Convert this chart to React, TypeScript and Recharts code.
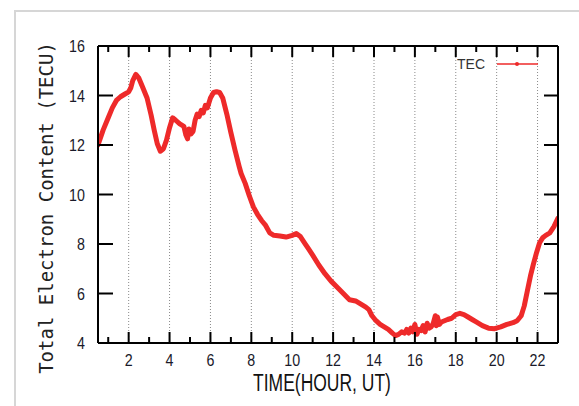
import { LineChart, Line, XAxis, YAxis, ReferenceLine, Legend } from "recharts";

// TEC time series (hour UT, TECU)
const hours = [
  0.5, 0.75, 1.0, 1.2, 1.4, 1.6, 1.8, 2.0, 2.1, 2.2, 2.35, 2.5, 2.7, 2.9, 3.1, 3.25, 3.4, 3.55, 3.7, 3.85,
  4.0, 4.15, 4.3, 4.5, 4.7, 4.8, 4.88, 4.95, 5.05, 5.15, 5.25, 5.35, 5.45, 5.55, 5.65, 5.75, 5.85, 6.0,
  6.15, 6.3, 6.45, 6.6, 6.8, 7.0, 7.2, 7.4, 7.5, 7.7, 7.9, 8.1, 8.3, 8.5, 8.7, 8.9, 9.1, 9.4, 9.7, 10.0,
  10.2, 10.4, 10.6, 10.8, 11.0, 11.3, 11.6, 11.9, 12.2, 12.5, 12.8, 13.1, 13.4, 13.6, 13.75, 13.9, 14.1,
  14.3, 14.5, 14.7, 14.9, 15.05, 15.2, 15.35, 15.5, 15.6, 15.7, 15.8, 15.9, 16.0, 16.1, 16.2, 16.3, 16.4,
  16.5, 16.6, 16.7, 16.8, 16.9, 17.0, 17.05, 17.1, 17.2, 17.3, 17.45, 17.6, 17.8, 18.0, 18.2, 18.4, 18.6,
  18.8, 19.0, 19.3, 19.6, 19.9, 20.2, 20.5, 20.8, 21.0, 21.2, 21.35, 21.5, 21.65, 21.8, 21.95, 22.1, 22.25,
  22.4, 22.6, 22.8, 23.0,
];
const tec = [
  12.0, 12.6, 13.1, 13.5, 13.8, 13.95, 14.05, 14.15, 14.3, 14.6, 14.85, 14.7, 14.3, 13.9, 13.2, 12.6, 12.05, 11.75, 11.85, 12.2,
  12.7, 13.1, 13.0, 12.85, 12.75, 12.4, 12.25, 12.65, 12.45, 12.55, 13.0, 13.25, 13.15, 13.4, 13.3, 13.6, 13.5, 13.9,
  14.12, 14.15, 14.12, 13.9, 13.25, 12.5, 11.8, 11.15, 10.85, 10.45, 9.95, 9.5, 9.2, 8.95, 8.75, 8.45, 8.35, 8.32, 8.28, 8.35,
  8.42, 8.3, 8.05, 7.8, 7.55, 7.15, 6.8, 6.5, 6.25, 6.0, 5.75, 5.7, 5.55, 5.45, 5.35, 5.1, 4.9,
  4.75, 4.65, 4.55, 4.4, 4.3, 4.35, 4.45, 4.4, 4.55, 4.4, 4.6, 4.45, 4.75, 4.35, 4.55, 4.5, 4.7,
  4.45, 4.8, 4.6, 4.65, 4.8, 5.1, 4.7, 5.05, 4.75, 4.85, 4.9, 4.95, 5.0, 5.15, 5.2, 5.15, 5.05,
  4.95, 4.85, 4.7, 4.6, 4.58, 4.65, 4.75, 4.82, 4.9, 5.1, 5.5, 6.1, 6.7, 7.2, 7.65, 8.05, 8.25,
  8.35, 8.45, 8.7, 9.05,
];

const hourTicks = [1, 2, 3, 4, 5, 6, 7, 8, 9, 10, 11, 12, 13, 14, 15, 16, 17, 18, 19, 20, 21, 22];
const gridHours = [2, 4, 6, 8, 10, 12, 14, 16, 18, 20, 22];
const tecTicks = [4, 6, 8, 10, 12, 14, 16];

const data = hours.map((t, i) => ({ t, tec: tec[i] }));

const RED = "#ee2a2a";
const tickFont = "'Liberation Sans', Arial, sans-serif";

function BottomTick(props: any) {
  const { x, y, payload } = props;
  const major = payload.value % 2 === 0;
  return (
    <g>
      <line x1={x} x2={x} y1={y} y2={y - (major ? 11 : 6)} stroke="#000" strokeWidth={2} />
      {major && (
        <text
          transform={`translate(${x},${y + 23}) scale(0.84,1)`}
          textAnchor="middle"
          fontFamily={tickFont}
          fontSize={17}
          fill="#1a1a2a"
        >
          {payload.value}
        </text>
      )}
    </g>
  );
}

function TopTick(props: any) {
  const { x, y, payload } = props;
  const major = payload.value % 2 === 0;
  return <line x1={x} x2={x} y1={y} y2={y + (major ? 11 : 6)} stroke="#000" strokeWidth={2} />;
}

function LeftTick(props: any) {
  const { x, y, payload } = props;
  return (
    <g>
      <line x1={x} x2={x + 15} y1={y} y2={y} stroke="#000" strokeWidth={2} />
      <text
        transform={`translate(${x - 13},${y + 6}) scale(0.84,1)`}
        textAnchor="end"
        fontFamily={tickFont}
        fontSize={17}
        fill="#1a1a2a"
      >
        {payload.value}
      </text>
    </g>
  );
}

function RightTick(props: any) {
  const { x, y } = props;
  return <line x1={x} x2={x - 14} y1={y} y2={y} stroke="#000" strokeWidth={2} />;
}

function TecLegend() {
  return (
    <svg width={90} height={16}>
      <text x={0} y={13} fontFamily="'Liberation Sans', Arial, sans-serif" fontSize={14} fill="#333">
        TEC
      </text>
      <line x1={40} x2={81} y1={8} y2={8} stroke={RED} strokeWidth={1.5} />
      <circle cx={60} cy={8} r={2} fill={RED} />
    </svg>
  );
}

export default function App() {
  return (
    <div style={{ position: "absolute", top: 0, left: 0, width: 579, height: 406, background: "#fff", overflow: "hidden" }}>
      <div
        style={{
          position: "absolute",
          left: 14,
          top: 10,
          right: -10,
          bottom: -10,
          borderLeft: "2px solid #d6d6d6",
          borderTop: "2px solid #d6d6d6",
        }}
      />
      <LineChart
        width={579}
        height={406}
        data={data}
        margin={{ top: 45, right: 20, bottom: 0, left: 0 }}
        style={{ position: "absolute", top: 0, left: 0 }}
      >
        <XAxis
          xAxisId="b"
          dataKey="t"
          type="number"
          domain={[0.5, 23]}
          ticks={hourTicks}
          interval={0}
          allowDataOverflow
          height={63}
          tickSize={0}
          tickMargin={0}
          tickLine={false}
          axisLine={{ stroke: "#000", strokeWidth: 2 }}
          tick={<BottomTick />}
        />
        <XAxis
          xAxisId="t"
          orientation="top"
          dataKey="t"
          type="number"
          domain={[0.5, 23]}
          ticks={hourTicks}
          interval={0}
          allowDataOverflow
          height={1}
          tickSize={0}
          tickMargin={0}
          tickLine={false}
          axisLine={{ stroke: "#000", strokeWidth: 2 }}
          tick={<TopTick />}
        />
        <YAxis
          yAxisId="l"
          type="number"
          domain={[4, 16]}
          ticks={tecTicks}
          interval={0}
          allowDataOverflow
          width={98}
          tickSize={0}
          tickMargin={0}
          tickLine={false}
          axisLine={{ stroke: "#000", strokeWidth: 2 }}
          tick={<LeftTick />}
        />
        <YAxis
          yAxisId="r"
          orientation="right"
          type="number"
          domain={[4, 16]}
          ticks={tecTicks}
          interval={0}
          allowDataOverflow
          width={1}
          tickSize={0}
          tickMargin={0}
          tickLine={false}
          axisLine={{ stroke: "#000", strokeWidth: 2 }}
          tick={<RightTick />}
        />
        {gridHours.map((h) => (
          <ReferenceLine
            key={h}
            x={h}
            xAxisId="b"
            yAxisId="l"
            stroke="#8a8a8a"
            strokeWidth={1}
            strokeDasharray="1 2"
          />
        ))}
        <Line
          xAxisId="b"
          yAxisId="l"
          dataKey="tec"
          name="TEC"
          type="linear"
          stroke={RED}
          strokeWidth={5}
          strokeLinejoin="round"
          strokeLinecap="round"
          dot={false}
          isAnimationActive={false}
        />
        <Legend
          layout="horizontal"
          verticalAlign="middle"
          align="center"
          content={<TecLegend />}
          wrapperStyle={{ position: "absolute", top: 56, left: 457, width: 90, height: 16 }}
        />
      </LineChart>
      <div
        style={{
          position: "absolute",
          left: 46,
          top: 208,
          transform: "translate(-50%, -50%) rotate(-90deg)",
          whiteSpace: "nowrap",
          fontFamily: "'DejaVu Sans Mono', monospace",
          fontSize: 19,
          color: "#222",
        }}
      >
        Total Electron Content (TECU)
      </div>
      <div
        style={{
          position: "absolute",
          left: 322,
          top: 383,
          transform: "translate(-50%, -50%) scale(0.76, 1)",
          whiteSpace: "nowrap",
          fontFamily: "'Liberation Sans', Arial, sans-serif",
          fontSize: 23,
          color: "#111",
        }}
      >
        TIME(HOUR, UT)
      </div>
    </div>
  );
}
